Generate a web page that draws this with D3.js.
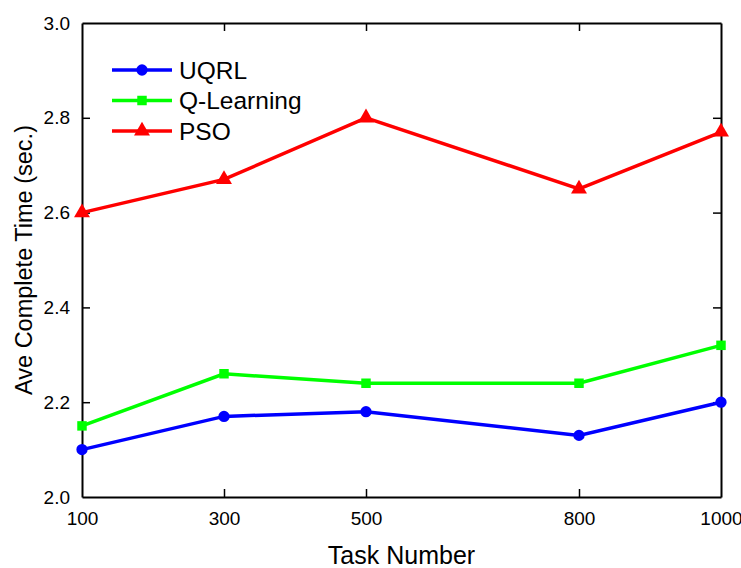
<!DOCTYPE html>
<html>
<head>
<meta charset="utf-8">
<script src="https://cdn.jsdelivr.net/npm/d3@7"></script>
<style>
  html, body { margin: 0; padding: 0; background: #fff; }
  svg text { font-family: "Liberation Sans", Arial, sans-serif; fill: #000; }
</style>
</head>
<body>
<svg id="chart" width="741" height="568"></svg>
<script>
// Task counts on the x axis
const taskNumbers = [100, 300, 500, 800, 1000];
// Average completion time (seconds) for each scheduler
const uqrl = [2.10, 2.17, 2.18, 2.13, 2.20];
const qLearning = [2.15, 2.26, 2.24, 2.24, 2.32];
const pso = [2.60, 2.67, 2.80, 2.65, 2.77];
const yTicks = [2.0, 2.2, 2.4, 2.6, 2.8, 3.0];

const series = [
  { name: "UQRL", values: uqrl, color: "#0000ff", symbol: d3.symbolCircle, size: 100 },
  { name: "Q-Learning", values: qLearning, color: "#00ff00", symbol: d3.symbolSquare, size: 90 },
  { name: "PSO", values: pso, color: "#ff0000", symbol: d3.symbolTriangle, size: 110 }
];

const svg = d3.select("#chart");
const m = { left: 82, right: 20, top: 23, bottom: 71 };
const W = 741, H = 568;
const x = d3.scaleLinear().domain([100, 1000]).range([m.left, W - m.right]);
const y = d3.scaleLinear().domain([2.0, 3.0]).range([H - m.bottom, m.top]);

// Axes with inward ticks on all four sides
const tickLen = 8;
const axBottom = svg.append("g").attr("transform", `translate(0,${y(2.0)})`)
  .call(d3.axisBottom(x).tickValues(taskNumbers).tickSizeInner(-tickLen).tickSizeOuter(0).tickPadding(15).tickFormat(d3.format("d")));
const axTop = svg.append("g").attr("transform", `translate(0,${y(3.0)})`)
  .call(d3.axisTop(x).tickValues(taskNumbers).tickSizeInner(-tickLen).tickSizeOuter(0).tickFormat(""));
const axLeft = svg.append("g").attr("transform", `translate(${x(100)},0)`)
  .call(d3.axisLeft(y).tickValues(yTicks).tickSizeInner(-tickLen).tickSizeOuter(0).tickPadding(12).tickFormat(d3.format(".1f")));
const axRight = svg.append("g").attr("transform", `translate(${x(1000)},0)`)
  .call(d3.axisRight(y).tickValues(yTicks).tickSizeInner(-tickLen).tickSizeOuter(0).tickFormat(""));

[axBottom, axTop, axLeft, axRight].forEach(g => {
  g.select(".domain").attr("stroke", "#000").attr("stroke-width", 2);
  g.selectAll(".tick line").attr("stroke", "#000").attr("stroke-width", 1.5);
  g.selectAll(".tick text").attr("font-size", 19).attr("font-family", "Liberation Sans, Arial, sans-serif");
});
// no tick marks on the frame corners
[axBottom, axTop].forEach(g => g.selectAll(".tick line").filter(d => d === 100 || d === 1000).remove());
[axLeft, axRight].forEach(g => g.selectAll(".tick line").filter(d => d === 2.0 || d === 3.0).remove());

// Axis titles
svg.append("text").attr("x", (x(100) + x(1000)) / 2).attr("y", 564)
  .attr("text-anchor", "middle").attr("font-size", 25).text("Task Number");
svg.append("text").attr("transform", `translate(32,${(y(2.0) + y(3.0)) / 2}) rotate(-90)`)
  .attr("text-anchor", "middle").attr("font-size", 23.5).text("Ave Complete Time (sec.)");

// Lines and markers
const line = d3.line().x((d, i) => x(taskNumbers[i])).y(d => y(d));
const plot = svg.append("g");
series.forEach(s => {
  plot.append("path").datum(s.values).attr("d", line)
    .attr("fill", "none").attr("stroke", s.color).attr("stroke-width", 3.5);
  plot.selectAll(null).data(s.values).join("path")
    .attr("transform", (d, i) => `translate(${x(taskNumbers[i])},${y(d)})`)
    .attr("d", d3.symbol().type(s.symbol).size(s.size))
    .attr("fill", s.color);
});

// Legend
const legend = svg.append("g");
series.forEach((s, i) => {
  const ly = 70 + i * 30.5;
  legend.append("line").attr("x1", 112).attr("x2", 172).attr("y1", ly).attr("y2", ly)
    .attr("stroke", s.color).attr("stroke-width", 3.5);
  legend.append("path").attr("transform", `translate(142,${ly})`)
    .attr("d", d3.symbol().type(s.symbol).size(s.size)).attr("fill", s.color);
  legend.append("text").attr("x", 179).attr("y", ly).attr("dy", "0.36em")
    .attr("font-size", 24.5).text(s.name);
});
</script>
</body>
</html>
